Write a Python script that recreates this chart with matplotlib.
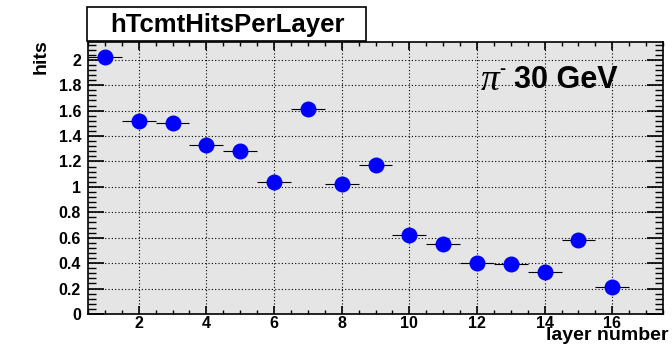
import matplotlib.pyplot as plt
from matplotlib.patches import Rectangle
from matplotlib.ticker import MultipleLocator
import numpy as np

# mean number of hits in each TCMT layer
layers = [1, 2, 3, 4, 5, 6, 7, 8, 9, 10, 11, 12, 13, 14, 15, 16]
hits = [2.02, 1.52, 1.50, 1.33, 1.28, 1.04, 1.61, 1.02, 1.17,
        0.62, 0.55, 0.40, 0.39, 0.33, 0.58, 0.21]
bin_half_width = [0.5] * len(layers)

plt.rcParams['font.family'] = ['Liberation Sans', 'DejaVu Sans']

fig = plt.figure(figsize=(6.72, 3.48), dpi=100)
ax = fig.add_axes([88/672, 34/348, 575/672, 272/348])
ax.set_facecolor('#e5e5e5')

ax.errorbar(layers, hits, xerr=bin_half_width, fmt='o', color='blue',
            ecolor='black', elinewidth=0.8, capsize=0, markersize=11.5,
            markeredgewidth=0, zorder=3)

ax.set_xlim(0.5, 17.5)
ax.set_ylim(0, 2.14)
ax.xaxis.set_major_locator(MultipleLocator(2))
ax.xaxis.set_minor_locator(MultipleLocator(0.5))
ax.yaxis.set_major_locator(MultipleLocator(0.2))
ax.yaxis.set_minor_locator(MultipleLocator(0.04))
ax.set_yticks(np.arange(0, 2.01, 0.2))
ax.set_yticklabels(['0', '0.2', '0.4', '0.6', '0.8', '1', '1.2', '1.4', '1.6', '1.8', '2'])
ax.set_xticks(range(2, 17, 2))

ax.grid(True, which='major', color='black', linestyle=(0, (1, 2)), linewidth=0.8)
ax.set_axisbelow(True)

ax.tick_params(axis='x', which='major', direction='in', top=True, length=5.5, width=1.2)
ax.tick_params(axis='x', which='minor', direction='in', top=True, length=2.8, width=1)
ax.tick_params(axis='y', which='major', direction='in', right=True, length=11.5, width=1.2)
ax.tick_params(axis='y', which='minor', direction='in', right=True, length=6, width=1)
ax.tick_params(axis='x', labelsize=11.5, pad=1.5)
ax.tick_params(axis='y', labelsize=11.5, pad=5)
for lab in ax.get_xticklabels() + ax.get_yticklabels():
    lab.set_fontweight('bold')
for sp in ax.spines.values():
    sp.set_linewidth(1.2)

# axis titles, ROOT-style: flush with the axis ends
fig.text(668/672, 1 - 336/348, 'layer number', ha='right', va='center',
         fontsize=14, fontweight='bold')
fig.text(41/672, 1 - 57/348, 'hits', ha='center', va='center', rotation=90,
         fontsize=14, fontweight='bold')

# histogram title box
fig.patches.append(Rectangle((87/672, 1 - 41/348), 279/672, 34/348,
                             transform=fig.transFigure, facecolor='white',
                             edgecolor='black', linewidth=1.2))
fig.text(227/672, 1 - 25/348, 'hTcmtHitsPerLayer', ha='center', va='center',
         fontsize=18.5, fontweight='bold')

# beam label
fig.text(481/672, 1 - 81/348, 'π', ha='left', va='center', fontsize=27,
         family=['Liberation Serif'], style='italic')
fig.text(499/672, 1 - 70/348, '-', ha='left', va='center', fontsize=13,
         fontweight='bold')
fig.text(514/672, 1 - 80/348, '30 GeV', ha='left', va='center', fontsize=22,
         fontweight='bold')

fig.savefig('out.png', dpi=100)
